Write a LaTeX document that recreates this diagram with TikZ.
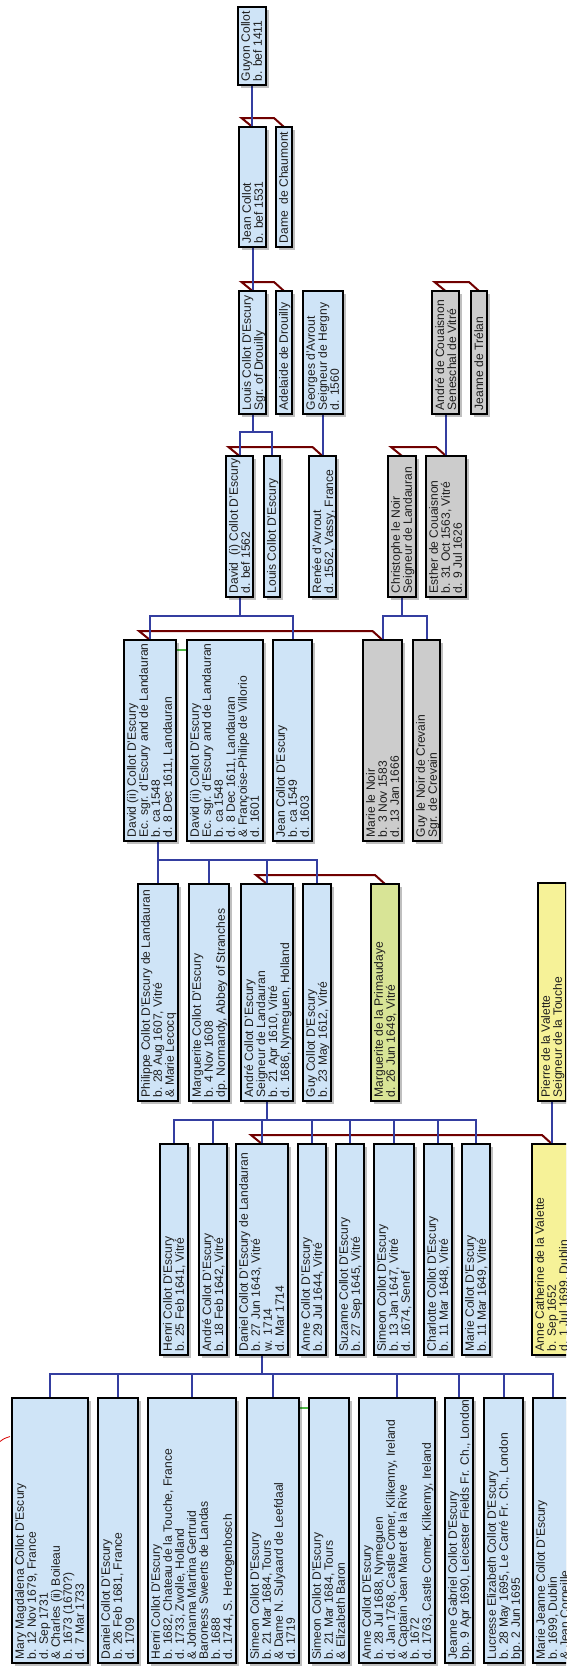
\documentclass[tikz,border=0pt]{standalone}
\usepackage{fontspec}
\setmainfont{Liberation Sans}
\usetikzlibrary{shadows,calc,backgrounds}
\definecolor{pblue}{RGB}{207,228,247}
\definecolor{pgray}{RGB}{204,204,204}
\definecolor{pgreen}{RGB}{216,228,150}
\definecolor{pyellow}{RGB}{246,242,152}
\definecolor{lblue}{RGB}{52,62,160}
\definecolor{lred}{RGB}{112,0,0}
\definecolor{lgreen}{RGB}{80,185,70}
\definecolor{ltext}{RGB}{30,30,30}
\tikzset{
  pbox/.style={draw=black, line width=2pt, outer sep=0pt, inner sep=0pt,
    drop shadow={shadow xshift=2.5pt, shadow yshift=-2.5pt, fill=black, opacity=0.25}},
  bluebox/.style={pbox, fill=pblue},
  graybox/.style={pbox, fill=pgray},
  greenbox/.style={pbox, fill=pgreen},
  yellowbox/.style={pbox, fill=pyellow},
  ptext/.style={rotate=90, align=left, anchor=north west, inner xsep=3.5pt, inner ysep=3pt,
    text=ltext, font=\fontsize{12.1}{12}\selectfont},
  desc/.style={draw=lblue, line width=2pt},
  marr/.style={draw=lred, line width=2pt},
  sib/.style={draw=lgreen, line width=2pt},
}
% name, x1, y1, x2, y2, style, text
\newcommand\mkperson[7]{%
  \node[#6, minimum width={(#4-#2)*1pt}, minimum height={(#5-#3)*1pt}, anchor=north west] (#1) at (#2,#3) {};
  \node[ptext] (#1-t) at (#1.south west) {#7};
}
\newcommand\mkmarry[2]{%
  \draw[marr] (#1.north) -- ++(-11,-9) -- ($(#2.north)+(-10,-9)$) -- (#2.north);
}
\begin{document}
\begin{tikzpicture}[x=1pt,y=-1pt]
\useasboundingbox (0,0) rectangle (566,1666);
\clip (0,0) rectangle (566,1666);

% generation 1
\mkperson{guyon}{238}{7}{266}{85}{bluebox}{Guyon Collot\\b. bef 1411}
% generation 2
\mkperson{jean}{239}{127}{266}{247}{bluebox}{Jean Collot\\b. bef 1531}
\mkperson{dame}{276}{127}{292}{247}{bluebox}{Dame\ \ de Chaumont}
% generation 3
\mkperson{louis}{239}{291}{266}{414}{bluebox}{Louis Collot D'Escury\\Sgr. of Drouilly}
\mkperson{adelaide}{276}{291}{292}{414}{bluebox}{Adelaide de Drouilly}
\mkperson{georges}{303}{291}{343}{414}{bluebox}{Georges d'Avrout\\Seigneur de Hergny\\d. 1560}
\mkperson{andreC}{432}{291}{459}{414}{graybox}{André de Couaisnon\\Seneschal de Vitré}
\mkperson{jeanne}{471}{291}{487}{414}{graybox}{Jeanne de Trélan}
% generation 4
\mkperson{davidI}{226}{456}{253}{597}{bluebox}{David\ \ (i) Collot D'Escury\\d. bef 1562}
\mkperson{louisB}{264}{456}{280}{597}{bluebox}{Louis Collot D'Escury}
\mkperson{renee}{309}{456}{336}{597}{bluebox}{Renée d'Avrout\\d. 1562, Vassy, France}
\mkperson{christophe}{388}{456}{416}{597}{graybox}{Christophe le Noir\\Seigneur de Landauran}
\mkperson{esther}{426}{456}{466}{597}{graybox}{Esther de Couaisnon\\b. 31 Oct 1563, Vitré\\d. 9 Jul 1626}
% generation 5
\mkperson{davidA}{124}{640}{176}{841}{bluebox}{David (ii) Collot D'Escury\\Ec. sgr. d'Escury and de Landauran\\b. ca 1548\\d. 8 Dec 1611, Landauran}
\mkperson{davidB}{187}{640}{263}{841}{bluebox}{David (ii) Collot D'Escury\\Ec. sgr. d'Escury and de Landauran\\b. ca 1548\\d. 8 Dec 1611, Landauran\\\& Françoise-Philipe de Villorio\\d. 1601}
\mkperson{jeanE}{273}{640}{312}{841}{bluebox}{Jean Collot D'Escury\\b. ca 1549\\d. 1603}
\mkperson{marieN}{363}{640}{402}{841}{graybox}{Marie le Noir\\b. 3 Nov 1583\\d. 13 Jan 1666}
\mkperson{guyN}{413}{640}{440}{841}{graybox}{Guy le Noir de Crevain\\Sgr. de Crevain}
% generation 6
\mkperson{philippe}{138}{884}{178}{1101}{bluebox}{Philippe Collot D'Escury de Landauran\\b. 28 Aug 1607, Vitré\\\& Marie Lecocq}
\mkperson{marguerite}{189}{884}{229}{1101}{bluebox}{Marguerite Collot D'Escury\\b. 4 Nov 1608\\dp. Normandy, Abbey of Stranches}
\mkperson{andre}{241}{884}{293}{1101}{bluebox}{André Collot D'Escury\\Seigneur de Landauran\\b. 21 Apr 1610, Vitré\\d. 1686, Nymeguen, Holland}
\mkperson{guy}{303}{884}{331}{1101}{bluebox}{Guy Collot D'Escury\\b. 23 May 1612, Vitré}
\mkperson{primaudaye}{371}{884}{399}{1101}{greenbox}{Marguerite de la Primaudaye\\d. 26 Jun 1649, Vitré}
\mkperson{pierre}{538}{883}{566}{1101}{yellowbox}{Pierre de la Valette\\Seigneur de la Touche}
% generation 7
\mkperson{henri}{160}{1144}{188}{1355}{bluebox}{Henri Collot D'Escury\\b. 25 Feb 1641, Vitré}
\mkperson{andreB}{199}{1144}{227}{1355}{bluebox}{André Collot D'Escury\\b. 18 Feb 1642, Vitré}
\mkperson{daniel}{236}{1144}{288}{1355}{bluebox}{Daniel Collot D'Escury de Landauran\\b. 27 Jun 1643, Vitré\\w. 1714\\d. Mar 1714}
\mkperson{anne}{298}{1144}{326}{1355}{bluebox}{Anne Collot D'Escury\\b. 29 Jul 1644, Vitré}
\mkperson{suzanne}{336}{1144}{364}{1355}{bluebox}{Suzanne Collot D'Escury\\b. 27 Sep 1645, Vitré}
\mkperson{simeon}{374}{1144}{414}{1355}{bluebox}{Simeon Collot D'Escury\\b. 13 Jan 1647, Vitré\\d. 1674, Senef}
\mkperson{charlotte}{424}{1144}{452}{1355}{bluebox}{Charlotte Collot D'Escury\\b. 11 Mar 1648, Vitré}
\mkperson{marie}{462}{1144}{490}{1355}{bluebox}{Marie Collot D'Escury\\b. 11 Mar 1649, Vitré}
\mkperson{annecat}{532}{1144}{572}{1355}{yellowbox}{Anne Catherine de la Valette\\b. Sep 1652\\d. 1 Jul 1699, Dublin}
% generation 8
\mkperson{mary}{12}{1398}{88}{1663}{bluebox}{Mary Magdalena Collot D'Escury\\b. 12 Nov 1679, France\\d. Sep 1731\\\& Charles (ii) Boileau\\b. 1673 (1670?)\\d. 7 Mar 1733}
\mkperson{danielB}{98}{1398}{138}{1663}{bluebox}{Daniel Collot D'Escury\\b. 26 Feb 1681, France\\d. 1709}
\mkperson{henriB}{148}{1398}{236}{1663}{bluebox}{Henri Collot D'Escury\\b. 1682, Chateau de la Touche, France\\d. 1733, Zwolle, Holland\\\& Johanna Martina Gertruid\\Baroness Sweerts de Landas\\b. 1688\\d. 1744, S. Hertogenbosch}
\mkperson{simeonA}{247}{1398}{299}{1663}{bluebox}{Simeon Collot D'Escury\\b. 21 Mar 1684, Tours\\\& Dame N. Sulyaard de Leefdaal\\d. 1719}
\mkperson{simeonB}{309}{1398}{349}{1663}{bluebox}{Simeon Collot D'Escury\\b. 21 Mar 1684, Tours\\\& Elizabeth Baron}
\mkperson{anneB}{359}{1398}{435}{1663}{bluebox}{Anne Collot D'Escury\\b. 28 Jul 1688, Nymeguen\\d. Jan 1768, Castle Comer, Kilkenny, Ireland\\\& Captain Jean Maret de la Rive\\b. 1672\\d. 1763, Castle Comer, Kilkenny, Ireland}
\mkperson{jeanneG}{445}{1398}{473}{1663}{bluebox}{Jeanne Gabriel Collot D'Escury\\bp. 9 Apr 1690, Leicester Fields Fr. Ch., London}
\mkperson{lucresse}{484}{1398}{523}{1663}{bluebox}{Lucresse Elizabeth Collot D'Escury\\b. 28 May 1695, Le Carré Fr. Ch., London\\bp. 2 Jun 1695}
\mkperson{marieJ}{533}{1398}{573}{1663}{bluebox}{Marie Jeanne Collot D'Escury\\b. 1699, Dublin\\\& Jean Corneille}

\begin{scope}[on background layer]
  \fill[white] (0,0) rectangle (566,1666);
  % marriages
  \mkmarry{jean}{dame}
  \mkmarry{louis}{adelaide}
  \mkmarry{andreC}{jeanne}
  \mkmarry{davidI}{renee}
  \mkmarry{christophe}{esther}
  \mkmarry{davidA}{marieN}
  \mkmarry{andre}{primaudaye}
  \mkmarry{daniel}{annecat}
  % descent
  \draw[desc] (guyon.south) -- (guyon.south |- jean.north);
  \draw[desc] (jean.south) -- (jean.south |- louis.north);
  \draw[desc] (louis.south) -- ++(0,19);
  \draw[desc] (davidI.north) -- ++(0,-24) -| (louisB.north);
  \draw[desc] (georges.south) -- (georges.south |- renee.north);
  \draw[desc] (andreC.south) -- (andreC.south |- esther.north);
  \draw[desc] (davidI.south) -- ++(0,19);
  \draw[desc] (davidA.north) -- ++(0,-24) -| (jeanE.north);
  \draw[desc] (christophe.south) -- ++(0,19);
  \draw[desc] (marieN.north) -- ++(0,-24) -| (guyN.north);
  \draw[desc] (philippe.north |- davidA.south) -- ++(0,19);
  \draw[desc] (philippe.north) -- ++(0,-24) -| (guy.north);
  \draw[desc] (marguerite.north) -- ++(0,-24);
  \draw[desc] (andre.north) -- ++(0,-24);
  \draw[desc] (pierre.south) -- (pierre.south |- annecat.north);
  \draw[desc] (andre.south) -- ++(0,19);
  \draw[desc] (henri.north) -- ++(0,-24) -| (marie.north);
  \foreach \n in {andreB,daniel,anne,suzanne,simeon,charlotte}
    \draw[desc] (\n.north) -- ++(0,-24);
  \draw[desc] (daniel.south) -- ++(0,19);
  \draw[desc] (mary.north) -- ++(0,-24) -| (marieJ.north);
  \foreach \n in {danielB,henriB,simeonA,anneB,jeanneG,lucresse}
    \draw[desc] (\n.north) -- ++(0,-24);
  % same-person links
  \draw[sib] ($(davidA.north east)+(0,10)$) -- ($(davidB.north west)+(0,10)$);
  \draw[sib] ($(simeonA.north east)+(0,10)$) -- ($(simeonB.north west)+(0,10)$);
  % off-chart link
  \coordinate (arcA) at (0,1441.5);
  \coordinate (arcB) at (10,1436.5);
  \draw[red!85!black, line width=0.8pt] (arcA) .. controls (4,1438.5) .. (arcB);
\end{scope}
\end{tikzpicture}
\end{document}
